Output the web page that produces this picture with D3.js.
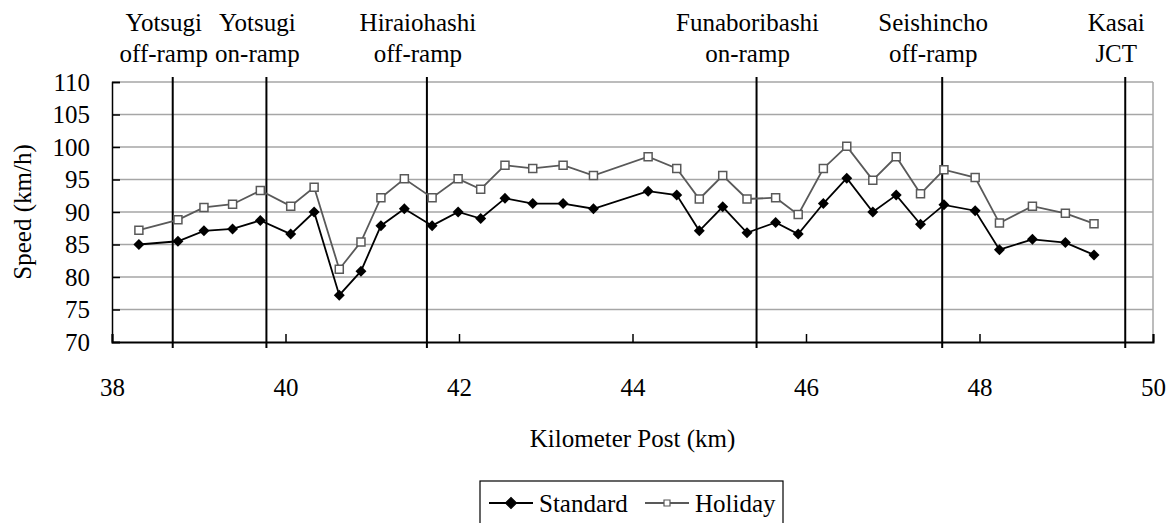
<!DOCTYPE html>
<html>
<head>
<meta charset="utf-8">
<script src="https://cdn.jsdelivr.net/npm/d3@7"></script>
<style>
    body { margin: 0; background: #fff; }
    svg text { font-family: 'Liberation Serif', serif !important; }
</style>
</head>
<body>
<div id="chart"></div>
<script>
// kilometer posts of the measuring points
const kmPost = [38.31, 38.76, 39.06, 39.39, 39.71, 40.06, 40.33, 40.62, 40.87, 41.10, 41.37, 41.69,
    41.99, 42.25, 42.53, 42.85, 43.20, 43.55, 44.18, 44.51, 44.77, 45.04, 45.32, 45.65,
    45.91, 46.20, 46.47, 46.77, 47.04, 47.32, 47.59, 47.95, 48.23, 48.61, 48.99, 49.32];

const standardSpeed = [85.0, 85.5, 87.1, 87.4, 88.7, 86.6, 90.0, 77.2, 80.9, 87.9, 90.5, 87.9,
    90.0, 89.0, 92.1, 91.3, 91.3, 90.5, 93.2, 92.6, 87.1, 90.8, 86.8, 88.4,
    86.6, 91.3, 95.2, 90.0, 92.6, 88.1, 91.1, 90.2, 84.2, 85.8, 85.3, 83.4];

const holidaySpeed = [87.2, 88.8, 90.7, 91.2, 93.3, 90.9, 93.8, 81.2, 85.4, 92.2, 95.1, 92.2,
    95.1, 93.5, 97.2, 96.7, 97.2, 95.6, 98.5, 96.7, 92.0, 95.6, 92.0, 92.2,
    89.6, 96.7, 100.1, 94.9, 98.5, 92.8, 96.5, 95.3, 88.3, 90.9, 89.8, 88.2];

const rampKm = [38.70, 39.78, 41.63, 45.43, 47.57, 49.68];
const rampLabels = [["Yotsugi", "off-ramp"], ["Yotsugi", "on-ramp"], ["Hiraiohashi", "off-ramp"],
    ["Funaboribashi", "on-ramp"], ["Seishincho", "off-ramp"], ["Kasai", "JCT"]];

const xTicks = [38, 40, 42, 44, 46, 48, 50];
const yTicks = [70, 75, 80, 85, 90, 95, 100, 105, 110];
const seriesNames = ["Standard", "Holiday"];

const FONT = "Liberation Serif";

class speed_profile{

    constructor(div_id, width, height){
        var self = this;

        self.margin = {left: 112, right: 23, top: 82, bottom: 181}
        self.height = height - self.margin.top - self.margin.bottom;
        self.width = width - self.margin.left - self.margin.right;

        self.svg = d3.select(`#${div_id}`).append("svg")
            .attr("width", width)
            .attr("height", height)
            .attr("font-family", FONT)

        self.viz = self.svg.append("g")

        self.xScale = d3.scaleLinear()
            .range([self.margin.left, self.margin.left + self.width])
            .domain([38, 50])

        self.yScale = d3.scaleLinear()
            .range([self.margin.top + self.height, self.margin.top])
            .domain([70, 110])

        self.rows = kmPost.map((k, i) => ({km: k, standard: standardSpeed[i], holiday: holidaySpeed[i]}))
        self.draw()
    }

    draw(){
        var self = this;
        let left = self.margin.left, right = self.margin.left + self.width;
        let top = self.margin.top, bottom = self.margin.top + self.height;

        // horizontal gridlines, top one works as the frame
        self.viz.append("g")
            .selectAll("line")
            .data(yTicks.filter(d => d > 70))
            .enter()
            .append("line")
                .attr("x1", left).attr("x2", right)
                .attr("y1", d => self.yScale(d)).attr("y2", d => self.yScale(d))
                .attr("stroke", "#a6a6a6")
                .attr("stroke-width", 1.5)

        // right frame
        self.viz.append("line")
            .attr("x1", right).attr("x2", right)
            .attr("y1", top).attr("y2", bottom)
            .attr("stroke", "#a6a6a6")
            .attr("stroke-width", 1.5)

        // y axis, ticks pointing inside
        let yAxis = d3.axisLeft(self.yScale)
            .tickValues(yTicks)
            .tickSize(-8)
            .tickPadding(22)
        let yg = self.viz.append("g")
            .attr("transform", `translate(${left}, 0)`)
            .call(yAxis)
        yg.attr("font-family", FONT)
        yg.selectAll("text").attr("font-size", 25).attr("fill", "#000")
        yg.selectAll("line").attr("stroke", "#000").attr("stroke-width", 1.5)
        yg.select(".domain").attr("stroke", "#000").attr("stroke-width", 1.5)

        // x axis
        let xAxis = d3.axisBottom(self.xScale)
            .tickValues(xTicks)
            .tickSize(-8)
            .tickPadding(36)
        let xg = self.viz.append("g")
            .attr("transform", `translate(0, ${bottom})`)
            .call(xAxis)
        xg.attr("font-family", FONT)
        xg.selectAll("text").attr("font-size", 25).attr("fill", "#000")
        xg.selectAll("line").attr("stroke", "#000").attr("stroke-width", 1.5)
        xg.select(".domain").attr("stroke", "#000").attr("stroke-width", 2)

        // ramp positions
        self.viz.append("g")
            .selectAll("line")
            .data(rampKm)
            .enter()
            .append("line")
                .attr("x1", d => self.xScale(d)).attr("x2", d => self.xScale(d))
                .attr("y1", top - 5).attr("y2", bottom + 6)
                .attr("stroke", "#000")
                .attr("stroke-width", 2)

        let labels = self.viz.append("g")
            .selectAll("text")
            .data(rampKm)
            .enter()
            .append("text")
                .attr("x", d => self.xScale(d) - 9)
                .attr("y", 31)
                .attr("text-anchor", "middle")
                .attr("font-size", 25)
        labels.each(function(d, i){
            d3.select(this).selectAll("tspan")
                .data(rampLabels[i])
                .enter()
                .append("tspan")
                    .attr("x", self.xScale(d) - 9)
                    .attr("dy", (t, j) => j == 0 ? 0 : 31)
                    .text(t => t)
        })

        // series
        let holidayLine = d3.line().x(d => self.xScale(d.km)).y(d => self.yScale(d.holiday))
        let standardLine = d3.line().x(d => self.xScale(d.km)).y(d => self.yScale(d.standard))

        self.viz.append("path")
            .datum(self.rows)
            .attr("d", holidayLine)
            .attr("fill", "none")
            .attr("stroke", "#595959")
            .attr("stroke-width", 1.8)

        self.viz.append("path")
            .datum(self.rows)
            .attr("d", standardLine)
            .attr("fill", "none")
            .attr("stroke", "#000")
            .attr("stroke-width", 1.8)

        let square = d3.symbol().type(d3.symbolSquare).size(64)
        let diamond = d3.symbol().type(d3.symbolSquare).size(60)

        self.viz.append("g")
            .selectAll("path")
            .data(self.rows)
            .enter()
            .append("path")
                .attr("d", square)
                .attr("transform", d => `translate(${self.xScale(d.km)}, ${self.yScale(d.holiday)})`)
                .attr("fill", "#fff")
                .attr("stroke", "#595959")
                .attr("stroke-width", 1.5)

        self.viz.append("g")
            .selectAll("path")
            .data(self.rows)
            .enter()
            .append("path")
                .attr("d", diamond)
                .attr("transform", d => `translate(${self.xScale(d.km)}, ${self.yScale(d.standard)}) rotate(45)`)
                .attr("fill", "#000")

        // axis titles
        self.viz.append("text")
            .attr("x", (left + right) / 2)
            .attr("y", 447)
            .attr("text-anchor", "middle")
            .attr("font-size", 25)
            .text("Kilometer Post (km)")

        self.viz.append("text")
            .attr("transform", `translate(31, ${(top + bottom) / 2}) rotate(-90)`)
            .attr("text-anchor", "middle")
            .attr("font-size", 25)
            .text("Speed (km/h)")

        // legend, its lower edge falls outside the picture
        let lg = self.viz.append("g").attr("transform", "translate(480, 481)")
        lg.append("rect")
            .attr("width", 303).attr("height", 60)
            .attr("fill", "#fff")
            .attr("stroke", "#000")
            .attr("stroke-width", 1.2)

        let items = [
            {name: seriesNames[0], x: 9, stroke: "#000", sym: diamond, fill: "#000", rot: 45},
            {name: seriesNames[1], x: 165, stroke: "#595959", sym: d3.symbol().type(d3.symbolSquare).size(36), fill: "#fff", rot: 0}
        ]
        let item = lg.selectAll(".item")
            .data(items)
            .enter()
            .append("g")
                .attr("class", "item")
                .attr("transform", d => `translate(${d.x}, 22)`)
        item.append("line")
            .attr("x1", 0).attr("x2", 44)
            .attr("stroke", d => d.stroke)
            .attr("stroke-width", 1.8)
        item.append("path")
            .attr("d", d => d.sym())
            .attr("transform", d => `translate(22, 0) rotate(${d.rot})`)
            .attr("fill", d => d.fill)
            .attr("stroke", d => d.stroke)
            .attr("stroke-width", 1.2)
        item.append("text")
            .attr("x", 50)
            .attr("dy", "0.35em")
            .attr("font-size", 25)
            .text(d => d.name)
    }
}

new speed_profile("chart", 1176, 523)
</script>
</body>
</html>
